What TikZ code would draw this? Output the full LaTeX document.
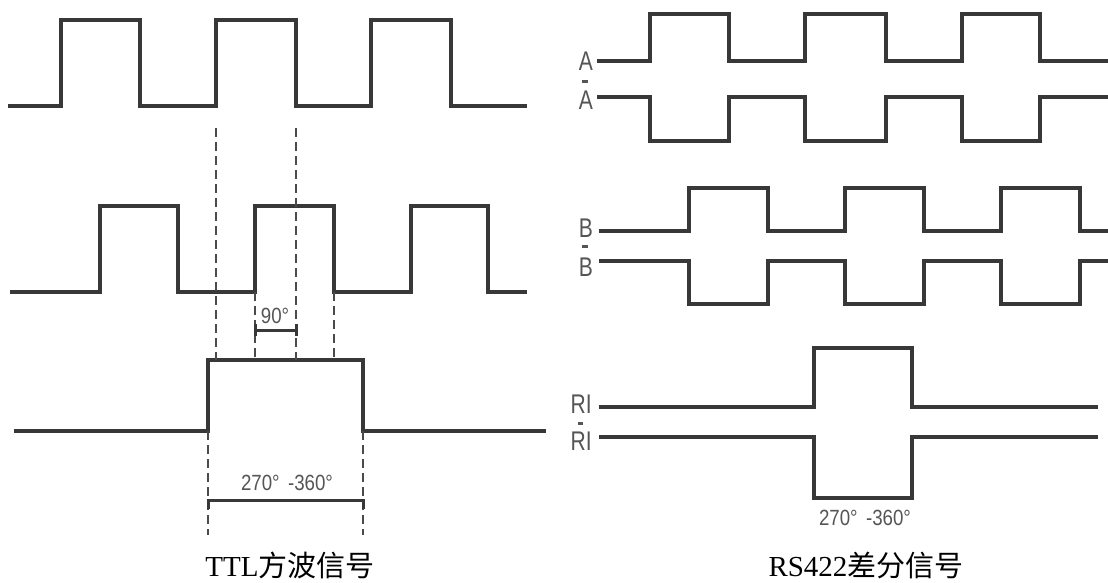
\documentclass[tikz,border=0pt]{standalone}
\usepackage{fontspec}
\setmainfont{Liberation Serif}
\newfontfamily\labfont{Liberation Sans}
\newfontfamily\cjk{Noto Sans CJK SC}
\definecolor{wave}{HTML}{383838}
\definecolor{dashc}{HTML}{4A4A4A}
\definecolor{txtc}{HTML}{555555}
\begin{document}
\begin{tikzpicture}[x=1pt,y=-1pt,
  wavestyle/.style={draw=wave,line width=3.4pt,line join=miter},
  guide/.style={draw=dashc,line width=2pt,dash pattern=on 9pt off 5pt},
  dim/.style={draw=wave,line width=3pt},
  barmark/.style={draw=txtc,line width=3pt},
  siglabel/.style={font=\labfont\fontsize{27}{27}\selectfont,text=txtc,inner sep=0pt,anchor=east},
  anglabel/.style={font=\labfont\fontsize{22}{22}\selectfont,text=txtc,inner sep=0pt},
  caption/.style={font=\fontsize{29}{29}\selectfont,text=black,inner sep=0pt}]
\useasboundingbox (0,0) rectangle (1108,582);
% ---------- TTL ----------
\draw[wavestyle] (8,106) -- (61,106) -- (61,20) -- (140,20) -- (140,106) -- (216,106) -- (216,20) -- (296,20) -- (296,106) -- (371,106) -- (371,20) -- (451,20) -- (451,106) -- (527,106);
\draw[wavestyle] (10,292) -- (100,292) -- (100,206) -- (178,206) -- (178,292) -- (255,292) -- (255,206) -- (334,206) -- (334,292) -- (411,292) -- (411,206) -- (488,206) -- (488,292) -- (527,292);
\draw[wavestyle] (14,431) -- (208,431) -- (208,360) -- (363,360) -- (363,431) -- (546,431);
\coordinate (d1a) at (216,128); \coordinate (d1b) at (216,360);
\coordinate (d2a) at (296,128); \coordinate (d2b) at (296,360);
\coordinate (d3a) at (255,292); \coordinate (d3b) at (255,360);
\coordinate (d4a) at (334,292); \coordinate (d4b) at (334,360);
\coordinate (d5a) at (208,431); \coordinate (d5b) at (208,535);
\coordinate (d6a) at (363,431); \coordinate (d6b) at (363,535);
\draw[guide] (d1a) -- (d1b);
\draw[guide] (d2a) -- (d2b);
\draw[guide] (d3a) -- (d3b);
\draw[guide] (d4a) -- (d4b);
\draw[guide] (d5a) -- (d5b);
\draw[guide] (d6a) -- (d6b);
\draw[dim] (255,324) -- (255,336) (255,330) -- (296,330) (296,324) -- (296,336);
\node[anglabel] (t90) at (275,316) {\scalebox{0.85}[1]{90°}};
\draw[dim] (208,509) -- (208,500) -- (363,500) -- (363,509);
\node[anglabel] (t270a) at (287,483) {\scalebox{0.85}[1]{270°\hspace{0.45em}-360°}};
\node[caption] (capL) at (290,565) {TTL{\cjk 方波信号}};
% ---------- RS422 ----------
\draw[wavestyle] (597,61) -- (650,61) -- (650,14) -- (729,14) -- (729,61) -- (805,61) -- (805,14) -- (886,14) -- (886,61) -- (962,61) -- (962,14) -- (1040,14) -- (1040,61) -- (1108,61);
\draw[wavestyle] (597,97) -- (650,97) -- (650,141) -- (729,141) -- (729,97) -- (805,97) -- (805,141) -- (886,141) -- (886,97) -- (962,97) -- (962,141) -- (1040,141) -- (1040,97) -- (1108,97);
\draw[wavestyle] (599,231) -- (689,231) -- (689,188) -- (768,188) -- (768,231) -- (845,231) -- (845,188) -- (924,188) -- (924,231) -- (1001,231) -- (1001,188) -- (1080,188) -- (1080,231) -- (1108,231);
\draw[wavestyle] (599,261) -- (689,261) -- (689,304) -- (768,304) -- (768,261) -- (845,261) -- (845,304) -- (924,304) -- (924,261) -- (1001,261) -- (1001,304) -- (1080,304) -- (1080,261) -- (1108,261);
\draw[wavestyle] (599,407) -- (814,407) -- (814,348) -- (912,348) -- (912,407) -- (1098,407);
\draw[wavestyle] (599,437) -- (814,437) -- (814,498) -- (912,498) -- (912,437) -- (1098,437);
\node[siglabel] (lA) at (593,61) {\scalebox{0.78}[1]{A}};
\node[siglabel] (lAn) at (593,100) {\scalebox{0.78}[1]{A}};
\draw[barmark] (582,81.5) -- (587.5,81.5);
\node[siglabel] (lB) at (593,228) {\scalebox{0.78}[1]{B}};
\node[siglabel] (lBn) at (593,267) {\scalebox{0.78}[1]{B}};
\draw[barmark] (582,246) -- (587.5,246);
\node[siglabel] (lR) at (592,404) {\scalebox{0.78}[1]{RI}};
\node[siglabel] (lRn) at (592,441) {\scalebox{0.78}[1]{RI}};
\draw[barmark] (577.5,423.5) -- (582.5,423.5);
\node[anglabel] (t270b) at (865,518) {\scalebox{0.85}[1]{270°\hspace{0.45em}-360°}};
\node[caption] (capR) at (866,565) {RS422{\cjk 差分信号}};
\end{tikzpicture}
\end{document}
